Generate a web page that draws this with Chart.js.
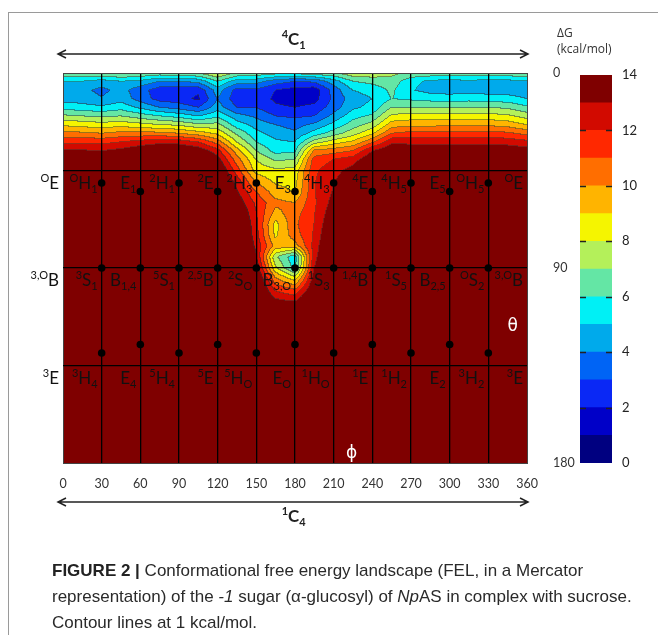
<!DOCTYPE html>
<html><head><meta charset="utf-8">
<script src="https://cdn.jsdelivr.net/npm/chart.js@4.4.1/dist/chart.umd.min.js"></script>
<style>
html,body{margin:0;padding:0;background:#fff;width:658px;height:635px;overflow:hidden;}
#wrap{position:relative;width:658px;height:635px;}
#frame{position:absolute;left:8px;top:12px;width:800px;height:800px;border:1px solid #9a9a9a;}
canvas{position:absolute;left:0;top:0;}
#dg{position:absolute;left:557px;top:25px;font:12px 'Open Sans',sans-serif;color:#333;line-height:16px;}
#cap{position:absolute;left:52px;top:558px;font:17px 'Liberation Sans',Arial,sans-serif;color:#2a2a2a;line-height:26px;white-space:nowrap;}
#cap b{color:#222;}
</style></head>
<body><div id="wrap"><div id="frame"></div>
<canvas id="main" width="658" height="635"></canvas>
<canvas id="cbar" width="658" height="635"></canvas>
<div id="dg">ΔG<br>(kcal/mol)</div>
<div id="cap"><b>FIGURE 2 |</b> Conformational free energy landscape (FEL, in a Mercator<br>representation) of the <i>-1</i> sugar (α-glucosyl) of <i>Np</i>AS in complex with sucrose.<br>Contour lines at 1 kcal/mol.</div>
</div>
<script>
// ---- data ----
const phiGrid = [0,15,30,45,60,75,90,105,120,135,150,165,180,195,210,225,240,255,270,285,300,315,330,345,360];
const thetaGrid = [0,4,8,12,16,20,24,28,32,36,40,45,50,55,60,65,70,75,80,85,90,95,100,105,110,180];
// free energy (kcal/mol) along theta, one column per phi value
const dGColumns = [
 [7.0,5.0,4.3,4.6,5.6,7.2,8.8,10.3,11.8,13.1,14.2,15,15,15,15,15,15,15,15,15,15,15,15,15,15,15],
 [7.0,5.0,4.3,4.5,5.4,7.0,8.6,10.2,11.8,13.1,14.2,15,15,15,15,15,15,15,15,15,15,15,15,15,15,15],
 [7.0,4.6,3.7,4.1,5.2,6.8,8.4,10.0,11.7,13.0,14.2,15,15,15,15,15,15,15,15,15,15,15,15,15,15,15],
 [7.2,5.0,4.4,4.6,5.6,7.0,8.6,10.3,12.0,13.3,14.4,15,15,15,15,15,15,15,15,15,15,15,15,15,15,15],
 [7.0,4.8,3.4,3.6,4.8,6.5,8.3,10.3,12.4,13.8,14.8,15,15,15,15,15,15,15,15,15,15,15,15,15,15,15],
 [6.8,4.0,2.5,2.6,4.0,6.0,8.0,10.3,12.7,14.2,15,15,15,15,15,15,15,15,15,15,15,15,15,15,15,15],
 [7.0,4.0,2.4,2.4,3.6,5.6,7.8,10.0,12.6,14.2,15,15,15,15,15,15,15,15,15,15,15,15,15,15,15,15],
 [7.2,4.3,2.2,1.8,3.0,5.0,7.2,9.5,12.0,13.8,14.8,15,15,15,15,15,15,15,15,15,15,15,15,15,15,15],
 [8.2,6.0,4.5,4.0,4.5,5.8,7.3,8.8,10.6,12.4,13.5,14.5,15,15,15,15,15,15,15,15,15,15,15,15,15,15],
 [7.0,4.5,2.6,2.4,3.0,4.4,5.5,6.8,8.0,9.5,10.5,11.5,12.6,13.2,13.8,14.5,15,15,15,15,15,15,15,15,15,15],
 [6.8,4.4,2.8,2.6,3.0,3.8,4.6,5.3,6.0,7.0,8.0,8.6,9.8,11.0,11.8,12.1,12.3,12.5,12.8,13.2,13.9,14.6,15,15,15,15],
 [6.5,3.5,2.0,1.8,2.2,3.0,4.0,4.6,5.2,5.6,6.8,8.2,8.8,9.5,10.3,9.6,8.6,8.8,9.6,7.2,8.2,10.2,11.8,13.2,15,15],
 [6.5,3.0,1.6,1.5,2.0,2.8,3.6,4.2,5.0,5.8,7.0,8.3,8.6,8.9,10.0,10.6,10.8,10.5,9.5,5.3,5.6,8.5,11.0,12.8,15,15],
 [6.8,3.2,1.4,1.6,2.3,3.0,4.2,5.4,7.5,10.2,11.4,11.8,11.9,11.9,11.8,11.9,12.0,12.1,12.3,12.6,13.0,13.6,14.2,15,15,15],
 [7.0,4.5,3.4,3.2,3.5,4.3,5.3,6.5,8.5,10.5,12.0,12.6,12.9,13.1,13.4,13.8,14.2,14.6,15,15,15,15,15,15,15,15],
 [7.8,6.0,5.0,4.5,4.8,5.6,6.5,7.6,9.2,11.0,12.5,13.4,14.0,14.5,15,15,15,15,15,15,15,15,15,15,15,15],
 [7.8,6.3,5.4,5.0,5.3,6.2,7.4,8.8,10.8,13.0,14.0,15,15,15,15,15,15,15,15,15,15,15,15,15,15,15],
 [7.3,6.6,6.2,6.0,7.0,8.2,9.5,11.0,12.8,14.0,15,15,15,15,15,15,15,15,15,15,15,15,15,15,15,15],
 [6.9,5.3,5.1,5.8,7.0,8.4,9.7,11.3,12.7,13.8,14.6,15,15,15,15,15,15,15,15,15,15,15,15,15,15,15],
 [6.8,4.8,4.6,5.6,7.0,8.4,9.7,11.3,12.7,13.8,14.6,15,15,15,15,15,15,15,15,15,15,15,15,15,15,15],
 [6.8,4.6,4.5,5.5,7.0,8.4,9.8,11.3,12.7,13.8,14.6,15,15,15,15,15,15,15,15,15,15,15,15,15,15,15],
 [6.8,4.8,4.6,5.6,7.0,8.4,9.8,11.3,12.7,13.8,14.6,15,15,15,15,15,15,15,15,15,15,15,15,15,15,15],
 [6.8,4.6,4.5,5.5,7.0,8.4,9.8,11.3,12.7,13.8,14.6,15,15,15,15,15,15,15,15,15,15,15,15,15,15,15],
 [6.8,4.7,4.5,5.4,6.8,8.2,9.6,11.2,12.6,13.7,14.6,15,15,15,15,15,15,15,15,15,15,15,15,15,15,15],
 [7.0,4.8,4.4,5.0,6.2,7.6,9.0,10.7,12.3,13.5,14.4,15,15,15,15,15,15,15,15,15,15,15,15,15,15,15]
];
// colour of each 1 kcal/mol band, 0-1 ... 13-14
const levelColors = ['#000080','#0000c8','#0a28f5','#0064f5','#00aaeb','#00f0f5','#64e6a5','#b4f05a','#f5f500','#ffb400','#ff6e00','#ff2800','#d20a00','#7f0000'];
const colorTicks = [0,2,4,6,8,10,12,14];
const phiTicks = [0,30,60,90,120,150,180,210,240,270,300,330,360];
const thetaTicks = [0,45,90,135,180];
const thetaTickLabels = ['0','','90','','180'];
// canonical conformers (dots)
const canonPhi = [30,60,90,120,150,180,210,240,270,300,330];
const northTheta = [50.8,54.7,50.8,54.7,50.8,54.7,50.8,54.7,50.8,54.7,50.8];
const equatorTheta = [90,90,90,90,90,90,90,90,90,90,90];
const southTheta = [129.2,125.3,129.2,125.3,129.2,125.3,129.2,125.3,129.2,125.3,129.2];
// labels
const labelPhi = [30,60,90,120,150,180,210,240,270,300,330,360];
const rowNorth = ['^{O}H_{1}','E_{1}','^{2}H_{1}','^{2}E','^{2}H_{3}','E_{3}','^{4}H_{3}','^{4}E','^{4}H_{5}','E_{5}','^{O}H_{5}','^{O}E'];
const rowEquator = ['^{3}S_{1}','B_{1,4}','^{5}S_{1}','^{2,5}B','^{2}S_{O}','B_{3,O}','^{1}S_{3}','^{1,4}B','^{1}S_{5}','B_{2,5}','^{O}S_{2}','^{3,O}B'];
const rowSouth = ['^{3}H_{4}','E_{4}','^{5}H_{4}','^{5}E','^{5}H_{O}','E_{O}','^{1}H_{O}','^{1}E','^{1}H_{2}','E_{2}','^{3}H_{2}','^{3}E'];
const rowLines = [45,90,135];
const leftLabels = ['^{O}E','^{3,O}B','^{3}E'];

// ---- helpers ----
function seg(grid, v){
  let i = 0;
  while (i < grid.length-2 && v > grid[i+1]) i++;
  const t = (v-grid[i])/(grid[i+1]-grid[i]);
  return [i, Math.max(0, Math.min(1, t))];
}
function felAt(phi, theta){
  const [i,tx] = seg(phiGrid, phi);
  const [j,ty] = seg(thetaGrid, theta);
  const c0 = dGColumns[i], c1 = dGColumns[i+1];
  const a = c0[j]*(1-ty)+c0[j+1]*ty;
  const b = c1[j]*(1-ty)+c1[j+1]*ty;
  return a*(1-tx)+b*tx;
}
function hexRgb(h){ return [parseInt(h.slice(1,3),16),parseInt(h.slice(3,5),16),parseInt(h.slice(5,7),16)]; }
function parseRich(s){
  const out=[]; const re=/([\^_])\{([^}]*)\}|([^\^_]+)/g; let m;
  while((m=re.exec(s))){ if(m[1]) out.push({t:m[2],k:m[1]==='^'?'sup':'sub'}); else out.push({t:m[3],k:'base'}); }
  return out;
}
function drawRich(ctx, s, x, y, align, base, small, family, weight){
  const segs = parseRich(s); let w = 0;
  segs.forEach(g=>{ ctx.font = `${weight} ${g.k==='base'?base:small}px ${family}`; g.w = ctx.measureText(g.t).width; w += g.w; });
  let cx = align==='right' ? x-w : align==='center' ? x-w/2 : x;
  segs.forEach(g=>{
    ctx.font = `${weight} ${g.k==='base'?base:small}px ${family}`;
    const dy = g.k==='sup' ? -base*0.40 : g.k==='sub' ? base*0.24 : 0;
    ctx.fillText(g.t, cx, y+dy); cx += g.w;
  });
}

// ---- filled contour landscape ----
const felPlugin = {
  id:'fel',
  beforeDatasetsDraw(chart){
    const {ctx, chartArea:a, scales:{x,y}} = chart;
    const L=Math.round(a.left), T=Math.round(a.top), W=Math.round(a.right)-L, H=Math.round(a.bottom)-T;
    const phis=new Float32Array(W), thetas=new Float32Array(H);
    for(let i=0;i<W;i++) phis[i]=x.getValueForPixel(L+i+0.5);
    for(let j=0;j<H;j++) thetas[j]=y.getValueForPixel(T+j+0.5);
    const lev=new Int8Array(W*H);
    for(let j=0;j<H;j++) for(let i=0;i<W;i++){
      const v=felAt(phis[i],thetas[j]);
      lev[j*W+i]=Math.max(0,Math.min(13,Math.floor(v)));
    }
    const rgb=levelColors.map(hexRgb);
    const img=ctx.createImageData(W,H); const d=img.data;
    for(let j=0;j<H;j++) for(let i=0;i<W;i++){
      const k=j*W+i, l=lev[k]; let c=rgb[l];
      let edge=(i<W-1&&lev[k+1]!==l)||(j<H-1&&lev[k+W]!==l);
      let r=c[0],g=c[1],b=c[2];
      if(edge){ r=r*0.5+50*0.5; g=g*0.5+50*0.5; b=b*0.5+50*0.5; }
      d[k*4]=r; d[k*4+1]=g; d[k*4+2]=b; d[k*4+3]=255;
    }
    ctx.putImageData(img,L,T);
  }
};

// ---- annotations (conformer names, arrows, axis symbols) ----
const annotPlugin = {
  id:'annot',
  afterDraw(chart){
    const {ctx, chartArea:a, scales:{x,y}} = chart;
    ctx.save();
    ctx.textBaseline='alphabetic';
    ctx.fillStyle='#111';
    const rows=[rowNorth,rowEquator,rowSouth];
    rows.forEach((row,r)=>{
      const yy=y.getPixelForValue(rowLines[r])+18;
      row.forEach((lab,k)=>{ drawRich(ctx, lab, x.getPixelForValue(labelPhi[k])-4, yy, 'right', 17, 11, 'Lato', 'normal'); });
      drawRich(ctx, leftLabels[r], a.left-4, yy, 'right', 17, 11, 'Lato', 'normal');
    });
    // axis symbols
    ctx.fillStyle='#fff';
    ctx.font='17px "DejaVu Sans"'; ctx.textAlign='center';
    ctx.fillText('\u03D5', x.getPixelForValue(224), y.getPixelForValue(177.5));
    ctx.fillText('\u03B8', x.getPixelForValue(349), y.getPixelForValue(119));
    ctx.textAlign='left';
    // arrows
    ctx.strokeStyle='#222'; ctx.lineWidth=1.5; ctx.fillStyle='#222';
    const x0=a.left-5, x1=a.right+1;
    [54,502].forEach(yy=>{
      ctx.beginPath(); ctx.moveTo(x0,yy); ctx.lineTo(x1,yy);
      ctx.moveTo(x0+8,yy-4); ctx.lineTo(x0,yy); ctx.lineTo(x0+8,yy+4);
      ctx.moveTo(x1-8,yy-4); ctx.lineTo(x1,yy); ctx.lineTo(x1-8,yy+4);
      ctx.stroke();
    });
    drawRich(ctx,'^{4}C_{1}', x.getPixelForValue(179), 45, 'center', 17, 11, 'Lato', 'bold');
    drawRich(ctx,'^{1}C_{4}', x.getPixelForValue(179), 522, 'center', 17, 11, 'Lato', 'bold');
    ctx.restore();
  }
};

const dots = [];
[northTheta,equatorTheta,southTheta].forEach(th=>canonPhi.forEach((p,i)=>dots.push({x:p,y:th[i]})));

const isEdge = (v,lo,hi)=> (v===lo||v===hi);
new Chart(document.getElementById('main'),{
  type:'scatter',
  data:{datasets:[{data:dots, pointRadius:3.8, pointBackgroundColor:'#000', pointBorderWidth:0, pointHoverRadius:3.8}]},
  options:{
    responsive:false, animation:false, devicePixelRatio:1, events:[],
    layout:{padding:{left:63, top:73, right:0, bottom:0}},
    plugins:{legend:{display:false}, tooltip:{enabled:false}},
    scales:{
      x:{type:'linear', min:0, max:360, position:'bottom',
        afterBuildTicks:s=>{ s.ticks = phiTicks.map(v=>({value:v})); },
        afterFit:s=>{ s.height = 635-463; },
        grid:{ z:1, color:c=>isEdge(c.tick.value,0,360)?'#444':'#000', lineWidth:c=>isEdge(c.tick.value,0,360)?1:1.3, drawTicks:false },
        border:{display:true, color:'#444', width:1, z:1},
        ticks:{padding:13, color:'#333', font:{family:'Lato', size:12.5}, maxRotation:0, autoSkip:false}
      },
      y:{type:'linear', min:0, max:180, reverse:true, position:'right',
        afterBuildTicks:s=>{ s.ticks = thetaTicks.map(v=>({value:v})); },
        afterFit:s=>{ s.width = 658-527; },
        grid:{ z:1, color:c=>isEdge(c.tick.value,0,180)?'#444':'#000', lineWidth:c=>isEdge(c.tick.value,0,180)?1:1.3, drawTicks:false },
        border:{display:true, color:'#444', width:1, z:1},
        ticks:{padding:26, color:'#333', font:{family:'Lato', size:12.5}, autoSkip:false,
          callback:(v)=>thetaTickLabels[thetaTicks.indexOf(v)] }
      }
    }
  },
  plugins:[felPlugin, annotPlugin]
});

// ---- colour bar ----
const cbarDash = {
  id:'cbarDash',
  afterDatasetsDraw(chart){
    const {ctx, chartArea:a, scales:{y}} = chart;
    ctx.save(); ctx.strokeStyle='#222'; ctx.lineWidth=1.5;
    [2,4,6,8,10,12].forEach(v=>{
      const yy=Math.round(y.getPixelForValue(v))+0.5;
      ctx.beginPath(); ctx.moveTo(a.left,yy); ctx.lineTo(a.left+6,yy); ctx.moveTo(a.right-6,yy); ctx.lineTo(a.right,yy); ctx.stroke();
    });
    ctx.restore();
  }
};
new Chart(document.getElementById('cbar'),{
  type:'bar',
  data:{labels:['\u0394G'], datasets: levelColors.map(c=>({data:[1], backgroundColor:c, borderWidth:0, barPercentage:1, categoryPercentage:1}))},
  options:{
    responsive:false, animation:false, devicePixelRatio:1, events:[],
    layout:{padding:{left:580, top:75, right:0, bottom:172}},
    plugins:{legend:{display:false}, tooltip:{enabled:false}},
    scales:{
      x:{stacked:true, display:false},
      y:{stacked:true, min:0, max:14, position:'right',
        afterBuildTicks:s=>{ s.ticks = colorTicks.map(v=>({value:v})); },
        afterFit:s=>{ s.width = 658-612; },
        grid:{display:false, drawTicks:false}, border:{display:false},
        ticks:{padding:10, color:'#222', font:{family:'Lato', size:13}}
      }
    }
  },
  plugins:[cbarDash]
});
</script>
</body></html>
